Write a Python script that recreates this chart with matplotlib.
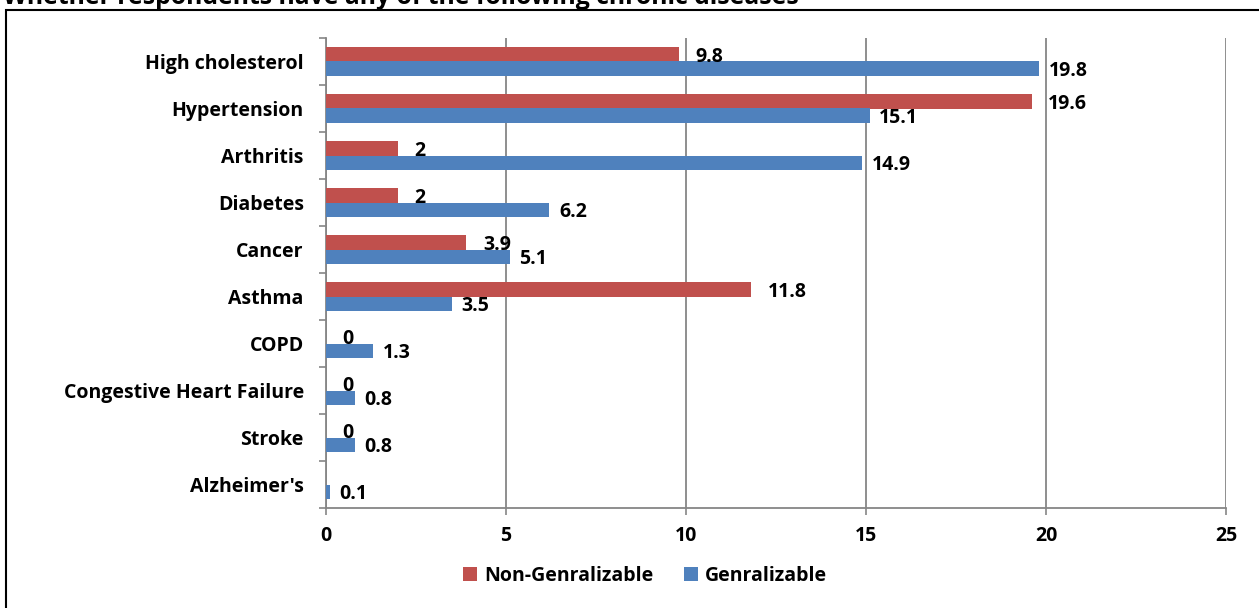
import matplotlib
matplotlib.use("Agg")
import matplotlib.pyplot as plt
import numpy as np
from matplotlib.patches import Rectangle

categories = ["High cholesterol", "Hypertension", "Arthritis", "Diabetes", "Cancer",
              "Asthma", "COPD", "Congestive Heart Failure", "Stroke", "Alzheimer's"]
non_gen = [9.8, 19.6, 2, 2, 3.9, 11.8, 0, 0, 0, None]
gen = [19.8, 15.1, 14.9, 6.2, 5.1, 3.5, 1.3, 0.8, 0.8, 0.1]
xticks = [0, 5, 10, 15, 20, 25]
title = "Whether respondents have any of the following chronic diseases"

RED = "#C0504D"
BLUE = "#4F81BD"
GRID = "#868686"
FS = 14

plt.rcParams['font.family'] = ['Open Sans', 'DejaVu Sans']
plt.rcParams['font.weight'] = 'bold'

W, H = 1259, 608
fig = plt.figure(figsize=(W / 100, H / 100), dpi=100)
ax = fig.add_axes([326 / W, 1 - 508 / H, 900 / W, 470 / H])

n = len(categories)
pos = np.arange(n)[::-1].astype(float)  # top category at highest y
bh = 0.3
red_vals = [v if v is not None else 0 for v in non_gen]
ax.barh(pos + bh / 2, red_vals, height=bh, color=RED, label="Non-Genralizable", zorder=3)
ax.barh(pos - bh / 2, gen, height=bh, color=BLUE, label="Genralizable", zorder=3)

for p, v in zip(pos, non_gen):
    if v is None:
        continue
    ax.annotate(f"{v:g}", xy=(v, p + bh / 2), xytext=(12, -2), textcoords="offset points",
                ha="left", va="center", fontsize=FS, fontweight="bold", color="black")
for p, v in zip(pos, gen):
    ax.annotate(f"{v:g}", xy=(v, p - bh / 2), xytext=(7, -2), textcoords="offset points",
                ha="left", va="center", fontsize=FS, fontweight="bold", color="black")

ax.set_xlim(0, 25)
ax.set_ylim(-0.5, n - 0.5)
ax.set_xticks(xticks)
ax.set_xticklabels([str(t) for t in xticks], fontsize=FS, fontweight="bold")
ax.set_yticks(pos)
ax.set_yticklabels(categories, fontsize=FS, fontweight="bold")
ax.set_yticks(np.arange(n + 1) - 0.5, minor=True)
ax.tick_params(axis="y", which="major", length=0, pad=16)
ax.tick_params(axis="y", which="minor", length=5, color=GRID, width=1.2)
ax.tick_params(axis="x", which="major", length=5, color=GRID, width=1.2, pad=8)

ax.grid(axis="x", color=GRID, linewidth=1.3, zorder=0)
for s in ["top", "right"]:
    ax.spines[s].set_visible(False)
for s in ["left", "bottom"]:
    ax.spines[s].set_color(GRID)
    ax.spines[s].set_linewidth(1.3)

handles, labels = ax.get_legend_handles_labels()
fig.legend(handles, labels, loc="center", bbox_to_anchor=(645 / W, 1 - 576 / H), ncol=2,
           frameon=False, prop={'weight': 'bold', 'size': FS}, handlelength=0.7,
           handleheight=0.7, handletextpad=0.35, columnspacing=1.6)

fig.text(3 / W, 1 - 4 / H, title, ha="left", va="baseline", fontsize=17.8, fontweight="bold")
fig.patches.append(Rectangle((6 / W, -0.1), 2, 1.1 - 10 / H, transform=fig.transFigure,
                             fill=False, edgecolor="black", linewidth=1.5))

fig.savefig("out.png", dpi=100)
